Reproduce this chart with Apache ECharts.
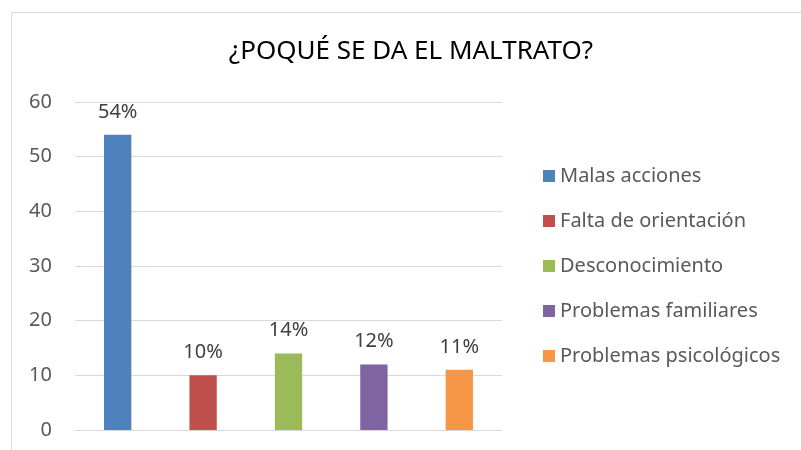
<!DOCTYPE html>
<html>
<head>
<meta charset="utf-8">
<script src="https://cdn.jsdelivr.net/npm/echarts@6/dist/echarts.min.js"></script>
<style>
  html, body { margin: 0; padding: 0; background: #fff; }
  #chart { width: 801px; height: 450px; }
</style>
</head>
<body>
<div id="chart"></div>
<script>
// datos de la gráfica
const categories = ['Malas acciones', 'Falta de orientación', 'Desconocimiento', 'Problemas familiares', 'Problemas psicológicos'];
const values = [54, 10, 14, 12, 11];
const colors = ['#4f81bd', '#c0504d', '#9bbb59', '#8064a2', '#f79646'];
const yTicks = [0, 10, 20, 30, 40, 50, 60];

const font = 'Noto Sans';
const chart = echarts.init(document.getElementById('chart'));

// una serie por categoría, apiladas para que cada barra quede en su lugar
const series = categories.map((name, i) => ({
  name: name,
  type: 'bar',
  stack: 'total',
  barWidth: '32%',
  data: values.map((v, j) => (j === i ? v : '-')),
  itemStyle: { color: colors[i] },
  label: {
    show: true,
    position: 'top',
    distance: 13,
    formatter: '{c}%',
    color: '#404040',
    fontFamily: font,
    fontSize: 20
  }
}));

chart.setOption({
  animation: false,
  graphic: [{
    type: 'rect',
    shape: { x: 11.5, y: 12.5, width: 800, height: 450 },
    style: { fill: 'none', stroke: '#d9d9d9', lineWidth: 1 },
    silent: true
  }],
  title: {
    text: '¿POQUÉ SE DA EL MALTRATO?',
    left: 406,
    textAlign: 'center',
    top: 34,
    textStyle: { color: '#000', fontFamily: font, fontSize: 26, fontWeight: 'normal' }
  },
  legend: {
    orient: 'vertical',
    left: 538,
    top: 161,
    itemWidth: 12,
    itemHeight: 12,
    itemGap: 25,
    icon: 'rect',
    textStyle: { color: '#595959', fontFamily: font, fontSize: 20, lineHeight: 20, padding: [0, 0, 0, 0] }
  },
  grid: { left: 75, right: 299, top: 102, bottom: 20, containLabel: false },
  xAxis: {
    type: 'category',
    data: categories,
    axisLine: { lineStyle: { color: '#d9d9d9', width: 1 } },
    axisTick: { show: false },
    axisLabel: { show: false }
  },
  yAxis: {
    type: 'value',
    min: yTicks[0],
    max: yTicks[yTicks.length - 1],
    interval: 10,
    axisLine: { show: false },
    axisTick: { show: false },
    axisLabel: { color: '#595959', fontFamily: font, fontSize: 20, margin: 23 },
    splitLine: { lineStyle: { color: '#d9d9d9', width: 1 } }
  },
  series: series
});
</script>
</body>
</html>
